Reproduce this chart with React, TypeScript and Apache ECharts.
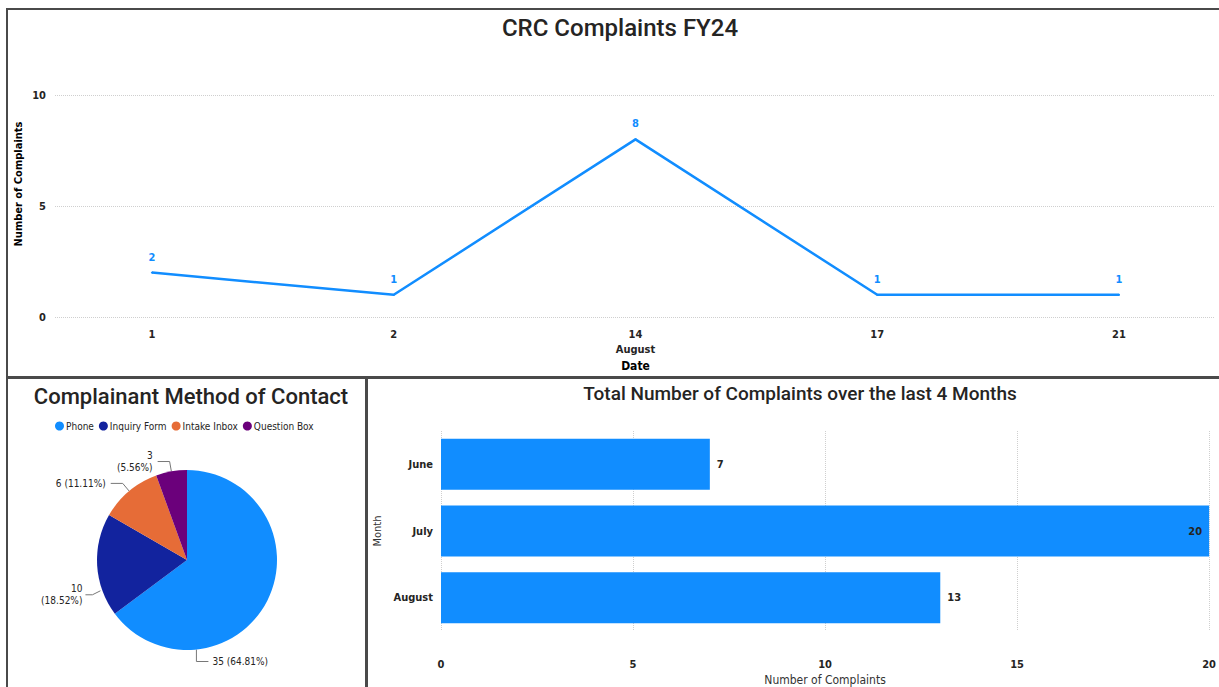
import React, { useEffect, useRef } from "react";
import * as echarts from "echarts";

const dates = ["1", "2", "14", "17", "21"];
const dailyComplaints = [2, 1, 8, 1, 1];
const dateMonth = { index: 2, text: "August" };

const contactMethods = ["Phone", "Inquiry Form", "Intake Inbox", "Question Box"];
const contactCounts = [35, 10, 6, 3];
const contactColors = ["#118DFF", "#12239E", "#E66C37", "#6B007B"];
const wrappedLabels = ["Inquiry Form", "Question Box"];

const months = ["June", "July", "August"];
const monthlyComplaints = [7, 20, 13];

const FONT = "'Liberation Sans Narrow', 'DejaVu Sans Condensed', Roboto, sans-serif";
const TITLE_FONT = "Roboto, 'DejaVu Sans', sans-serif";
const TEXT = "#252423";
const BLUE = "#118DFF";

const PIE_CENTER = [187, 560];
const PIE_RADIUS = 90;

export default function App() {
  const ref = useRef<HTMLDivElement>(null);
  useEffect(() => {
    if (!ref.current) return;
    const chart = echarts.init(ref.current, undefined, { renderer: "svg" });
    const barMax = Math.max(...monthlyComplaints);
    const edge = (deg: number) => {
      const a = (deg * Math.PI) / 180;
      return [PIE_CENTER[0] + PIE_RADIUS * Math.cos(a), PIE_CENTER[1] - PIE_RADIUS * Math.sin(a)];
    };
    const [ex, ey] = edge(-84);
    const [lx, ly] = edge(200);
    const option: any = {
      animation: false,
      backgroundColor: "#ffffff",
      title: [
        {
          text: "CRC Complaints FY24",
          left: 615,
          top: 11,
          textAlign: "center",
          textStyle: { fontFamily: TITLE_FONT, fontSize: 24, fontWeight: 500, color: TEXT },
        },
        {
          text: "Complainant Method of Contact",
          left: 186,
          top: 380,
          textAlign: "center",
          textStyle: { fontFamily: TITLE_FONT, fontSize: 22, fontWeight: 500, color: TEXT },
        },
        {
          text: "Total Number of Complaints over the last 4 Months",
          left: 795,
          top: 379,
          textAlign: "center",
          textStyle: { fontFamily: TITLE_FONT, fontSize: 19, fontWeight: 500, color: TEXT },
        },
      ],
      legend: {
        data: contactMethods,
        left: 50,
        top: 416,
        icon: "circle",
        itemWidth: 9,
        itemHeight: 9,
        itemGap: 5,
        textStyle: { fontFamily: FONT, fontSize: 10, fontWeight: 500, color: TEXT, padding: [0, 0, 0, -3] },
      },
      grid: [
        { left: 55, right: 4, top: 95, bottom: 370 },
        { left: 152, right: 100, top: 95, bottom: 370 },
        { left: 441, right: 9, top: 431, bottom: 56 },
      ],
      xAxis: [
        { gridIndex: 0, type: "value", show: false, min: 0, max: 1 },
        {
          gridIndex: 1,
          type: "category",
          data: dates,
          boundaryGap: false,
          axisLine: { show: false },
          axisTick: { show: false },
          axisLabel: {
            fontFamily: FONT,
            fontSize: 11,
            fontWeight: "bold",
            color: TEXT,
            margin: 10,
            lineHeight: 15,
            formatter: (v: string, i: number) => (i === dateMonth.index ? `${v}\n${dateMonth.text}` : v),
          },
          name: "Date",
          nameLocation: "middle",
          nameGap: 43,
          nameTextStyle: { fontFamily: FONT, fontSize: 12, fontWeight: "bold", color: "#000" },
        },
        {
          gridIndex: 2,
          type: "value",
          min: 0,
          max: 20,
          interval: 5,
          axisLine: { show: false },
          axisTick: { show: false },
          splitLine: { lineStyle: { type: "dotted", color: "#cfcfcf" } },
          axisLabel: { fontFamily: FONT, fontSize: 11, fontWeight: "bold", color: TEXT, margin: 28 },
          name: "Number of Complaints",
          nameLocation: "middle",
          nameGap: 43,
          nameTextStyle: { fontFamily: FONT, fontSize: 12, color: "#333" },
        },
      ],
      yAxis: [
        {
          gridIndex: 0,
          type: "value",
          min: 0,
          max: 10,
          interval: 5,
          axisLine: { show: false },
          axisTick: { show: false },
          splitLine: { lineStyle: { type: "dotted", color: "#cfcfcf" } },
          axisLabel: { fontFamily: FONT, fontSize: 11, fontWeight: "bold", color: TEXT, margin: 9 },
        },
        { gridIndex: 1, type: "value", min: 0, max: 10, interval: 5, show: false },
        {
          gridIndex: 2,
          type: "category",
          data: months,
          inverse: true,
          axisLine: { show: false },
          axisTick: { show: false },
          axisLabel: { fontFamily: FONT, fontSize: 11, fontWeight: "bold", color: TEXT, margin: 8 },
          name: "Month",
          nameLocation: "middle",
          nameGap: 58,
          nameRotate: 90,
          nameTextStyle: { fontFamily: FONT, fontSize: 11, color: "#333" },
        },
      ],
      series: [
        {
          type: "line",
          xAxisIndex: 1,
          yAxisIndex: 1,
          data: dailyComplaints,
          symbol: "circle",
          symbolSize: 2,
          showSymbol: true,
          lineStyle: { color: BLUE, width: 2.5 },
          itemStyle: { color: BLUE },
          label: {
            show: true,
            position: "top",
            distance: 9,
            color: BLUE,
            fontFamily: FONT,
            fontSize: 11,
            fontWeight: "bold",
          },
        },
        {
          type: "pie",
          center: PIE_CENTER,
          radius: PIE_RADIUS,
          startAngle: 90,
          clockwise: true,
          percentPrecision: 2,
          data: contactMethods.map((n, i) => ({
            name: n,
            value: contactCounts[i],
            itemStyle: { color: contactColors[i] },
          })),
          label: {
            show: true,
            fontFamily: FONT,
            fontSize: 10,
            color: TEXT,
            lineHeight: 12,
            formatter: (p: any) =>
              wrappedLabels.includes(p.name)
                ? `${p.value}\n(${p.percent.toFixed(2)}%)`
                : `${p.value} (${p.percent.toFixed(2)}%)`,
          },
          labelLine: { show: true, length: 10, length2: 12, lineStyle: { color: "#777", width: 1 } },
          labelLayout: (p: any) => {
            if (p.dataIndex === 0)
              return {
                x: ex + 16,
                y: ey + 12,
                align: "left",
                verticalAlign: "middle",
                labelLinePoints: [
                  [ex, ey],
                  [ex, ey + 12],
                  [ex + 12, ey + 12],
                ],
              };
            if (p.dataIndex === 1)
              return {
                x: lx - 20,
                y: ly + 4,
                align: "right",
                verticalAlign: "middle",
                labelLinePoints: [
                  [lx - 2, ly],
                  [lx - 10, ly + 4],
                  [lx - 17, ly + 4],
                ],
              };
            return {};
          },
        },
        {
          type: "bar",
          xAxisIndex: 2,
          yAxisIndex: 2,
          barWidth: 51,
          data: monthlyComplaints.map((v) => ({
            value: v,
            label:
              v >= barMax
                ? { position: "insideRight", color: "#252423" }
                : { position: "right", color: TEXT },
          })),
          itemStyle: { color: BLUE },
          label: {
            show: true,
            fontFamily: FONT,
            fontSize: 11,
            fontWeight: "bold",
            distance: 7,
          },
        },
      ],
      graphic: [
        {
          type: "text",
          x: 18,
          y: 184,
          rotation: Math.PI / 2,
          style: {
            text: "Number of Complaints",
            fontFamily: FONT,
            fontSize: 11,
            fontWeight: "bold",
            fill: "#000",
            align: "center",
            verticalAlign: "middle",
          },
        },
        {
          type: "rect",
          shape: { x: 7, y: 9, width: 1230, height: 368 },
          style: { fill: "none", stroke: "#4a4a4a", lineWidth: 2 },
        },
        {
          type: "rect",
          shape: { x: 7, y: 378, width: 359, height: 330 },
          style: { fill: "none", stroke: "#4a4a4a", lineWidth: 2 },
        },
        {
          type: "rect",
          shape: { x: 367, y: 378, width: 870, height: 330 },
          style: { fill: "none", stroke: "#4a4a4a", lineWidth: 2 },
        },
      ],
    };
    chart.setOption(option);
    return () => chart.dispose();
  }, []);
  return (
    <div
      ref={ref}
      style={{ position: "fixed", left: 0, top: 0, width: 1219, height: 687, background: "#fff" }}
    />
  );
}
